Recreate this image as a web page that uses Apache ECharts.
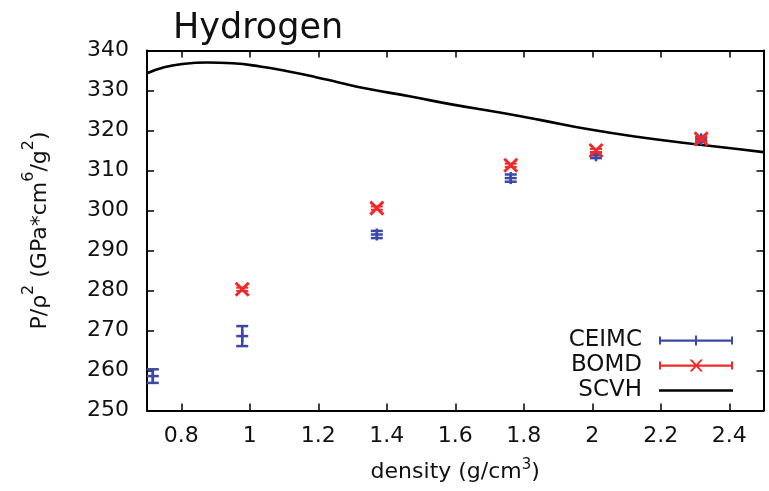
<!DOCTYPE html>
<html>
<head>
<meta charset="utf-8">
<script src="https://cdn.jsdelivr.net/npm/echarts@6/dist/echarts.min.js"></script>
<style>
  html, body { margin: 0; padding: 0; background: #fff; }
  #chart { width: 769px; height: 491px; }
</style>
</head>
<body>
<div id="chart"></div>
<script>
// CEIMC points (density, P/rho^2, error)
var ceimcX = [0.717, 0.978, 1.371, 1.762, 2.011, 2.318];
var ceimcY = [258.6, 268.6, 294.0, 308.1, 313.8, 317.8];
var ceimcErr = [1.7, 2.5, 0.9, 0.9, 0.7, 0.6];
// BOMD points
var bomdX = [0.978, 1.371, 1.762, 2.011, 2.318];
var bomdY = [280.3, 300.6, 311.3, 315.0, 317.9];
var bomdErr = [0.4, 0.4, 0.4, 0.4, 0.4];
// SCVH curve
var scvhX = [0.70, 0.75, 0.80, 0.875, 0.95, 1.03, 1.11, 1.19, 1.26, 1.34, 1.47, 1.585, 1.73, 1.85, 1.99, 2.14, 2.29, 2.43, 2.50];
var scvhY = [334.3, 335.8, 336.6, 337.0, 336.8, 336.0, 334.8, 333.4, 332.0, 330.5, 328.5, 326.6, 324.5, 322.6, 320.3, 318.3, 316.7, 315.3, 314.6];
// tick labels
var xTicks = [0.8, 1, 1.2, 1.4, 1.6, 1.8, 2, 2.2, 2.4];
var yTicks = [250, 260, 270, 280, 290, 300, 310, 320, 330, 340];

var BLUE = '#3a48a8', RED = '#f02a2a';
var FONT = 'DejaVu Sans';

function zip3(a, b, c) {
  return a.map(function (v, i) { return [v, b[i], c[i]]; });
}

// error bar with "+" marker
function renderCeimc(params, api) {
  var x = api.value(0), y = api.value(1), e = api.value(2);
  var c = api.coord([x, y]), lo = api.coord([x, y - e]), hi = api.coord([x, y + e]);
  var w = 6, st = { stroke: BLUE, lineWidth: 2.5 };
  return {
    type: 'group',
    children: [
      { type: 'line', shape: { x1: c[0], y1: lo[1], x2: c[0], y2: hi[1] }, style: st },
      { type: 'line', shape: { x1: c[0] - w, y1: lo[1], x2: c[0] + w, y2: lo[1] }, style: st },
      { type: 'line', shape: { x1: c[0] - w, y1: hi[1], x2: c[0] + w, y2: hi[1] }, style: st },
      { type: 'line', shape: { x1: c[0] - w, y1: c[1], x2: c[0] + w, y2: c[1] }, style: st },
      { type: 'line', shape: { x1: c[0], y1: c[1] - w, x2: c[0], y2: c[1] + w }, style: st }
    ]
  };
}

// error bar with "x" marker
function renderBomd(params, api) {
  var x = api.value(0), y = api.value(1), e = api.value(2);
  var c = api.coord([x, y]), lo = api.coord([x, y - e]), hi = api.coord([x, y + e]);
  var w = 6, s = 6.5, st = { stroke: RED, lineWidth: 3 };
  return {
    type: 'group',
    children: [
      { type: 'line', shape: { x1: c[0], y1: lo[1], x2: c[0], y2: hi[1] }, style: st },
      { type: 'line', shape: { x1: c[0] - w, y1: lo[1], x2: c[0] + w, y2: lo[1] }, style: { stroke: RED, lineWidth: 2 } },
      { type: 'line', shape: { x1: c[0] - w, y1: hi[1], x2: c[0] + w, y2: hi[1] }, style: { stroke: RED, lineWidth: 2 } },
      { type: 'line', shape: { x1: c[0] - s, y1: c[1] - s, x2: c[0] + s, y2: c[1] + s }, style: st },
      { type: 'line', shape: { x1: c[0] - s, y1: c[1] + s, x2: c[0] + s, y2: c[1] - s }, style: st }
    ]
  };
}

var chart = echarts.init(document.getElementById('chart'));

var axisLine = { show: true, onZero: false, lineStyle: { color: '#000', width: 2 } };
var tickStyle = { inside: true, length: 7, lineStyle: { color: '#000', width: 1.5 } };

chart.setOption({
  backgroundColor: '#fff',
  animation: false,
  title: {
    text: 'Hydrogen',
    left: 168,
    top: 6,
    textStyle: { fontFamily: FONT, fontSize: 35, fontWeight: 'normal', color: '#111' }
  },
  legend: {
    orient: 'vertical',
    right: 31,
    top: 324,
    align: 'right',
    itemWidth: 74,
    itemHeight: 12,
    itemGap: 2,
    textStyle: { fontFamily: FONT, fontSize: 23, color: '#111', padding: [0, 12, 0, 0] },
    data: [
      { name: 'CEIMC', icon: 'path://M0,5 h74 v2.2 h-74 Z M0,2 h2 v8 h-2 Z M72,2 h2 v8 h-2 Z M36,1 h2 v10 h-2 Z', itemStyle: { color: BLUE } },
      { name: 'BOMD', icon: 'path://M0,5 h74 v2.2 h-74 Z M0,2 h2 v8 h-2 Z M72,2 h2 v8 h-2 Z M30.5,0 L33,0 L44,12 L41.5,12 Z M41.5,0 L44,0 L33,12 L30.5,12 Z', itemStyle: { color: RED } },
      { name: 'SCVH', icon: 'path://M0,4.8 h74 v2.6 h-74 Z', itemStyle: { color: '#000' } }
    ]
  },
  grid: { left: 147, right: 5.5, top: 50.5, bottom: 80.5, containLabel: false },
  xAxis: [
    {
      type: 'value', min: 0.7, max: 2.5,
      name: '{n|density (g/cm}{s|3}{n|)}',
      nameLocation: 'middle', nameGap: 47,
      nameTextStyle: {
        rich: {
          n: { fontFamily: FONT, fontSize: 22, color: '#111', lineHeight: 26, verticalAlign: 'bottom' },
          s: { fontFamily: FONT, fontSize: 15, color: '#111', lineHeight: 26, verticalAlign: 'top' }
        }
      },
      axisLine: axisLine,
      axisTick: Object.assign({ customValues: xTicks }, tickStyle),
      axisLabel: { customValues: xTicks, margin: 15, fontFamily: FONT, fontSize: 22, color: '#111' },
      splitLine: { show: false }
    },
    {
      type: 'value', min: 0.7, max: 2.5, position: 'top',
      axisLine: axisLine,
      axisTick: Object.assign({ customValues: xTicks }, tickStyle),
      axisLabel: { show: false },
      splitLine: { show: false }
    }
  ],
  yAxis: [
    {
      type: 'value', min: 250, max: 340, interval: 10,
      name: '{n|P/ρ}{s|2}{n| (GPa*cm}{s|6}{n|/g}{s|2}{n|)}',
      nameLocation: 'middle', nameGap: 96, nameRotate: 90,
      nameTextStyle: {
        rich: {
          n: { fontFamily: FONT, fontSize: 22, color: '#111', lineHeight: 30, verticalAlign: 'bottom' },
          s: { fontFamily: FONT, fontSize: 16, color: '#111', lineHeight: 30, verticalAlign: 'top' }
        }
      },
      axisLine: axisLine,
      axisTick: Object.assign({ customValues: yTicks }, tickStyle),
      axisLabel: { customValues: yTicks, margin: 18, fontFamily: FONT, fontSize: 22, color: '#111' },
      splitLine: { show: false }
    },
    {
      type: 'value', min: 250, max: 340, interval: 10, position: 'right',
      axisLine: axisLine,
      axisTick: Object.assign({ customValues: yTicks }, tickStyle),
      axisLabel: { show: false },
      splitLine: { show: false }
    }
  ],
  series: [
    {
      name: 'SCVH',
      type: 'line',
      smooth: 0.5,
      showSymbol: false,
      symbol: 'none',
      itemStyle: { color: '#000' },
      lineStyle: { color: '#000', width: 2.6 },
      data: scvhX.map(function (v, i) { return [v, scvhY[i]]; }),
      z: 2
    },
    {
      name: 'CEIMC',
      type: 'custom',
      renderItem: renderCeimc,
      itemStyle: { color: BLUE },
      encode: { x: 0, y: 1 },
      data: zip3(ceimcX, ceimcY, ceimcErr),
      z: 3
    },
    {
      name: 'BOMD',
      type: 'custom',
      renderItem: renderBomd,
      itemStyle: { color: RED },
      encode: { x: 0, y: 1 },
      data: zip3(bomdX, bomdY, bomdErr),
      z: 4
    }
  ]
});
</script>
</body>
</html>
